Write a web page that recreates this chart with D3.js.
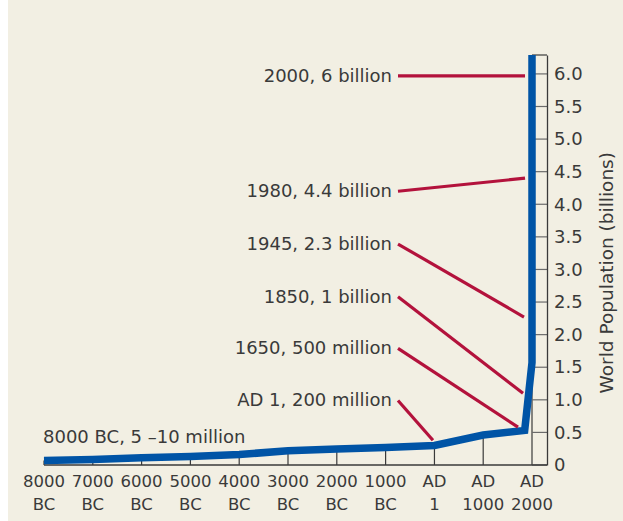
<!DOCTYPE html>
<html>
<head>
<meta charset="utf-8">
<script src="https://cdn.jsdelivr.net/npm/d3@7"></script>
<style>
  html, body { margin: 0; padding: 0; background: #ffffff; }
  svg { display: block; }
  text { font-family: "DejaVu Sans", sans-serif; fill: #3a3a3a; }
</style>
</head>
<body>
<div id="chart"></div>
<script>
// world population through history (billions)
const years = [-8000, -7000, -6000, -5000, -4000, -3000, -2000, -1000, 1, 1000, 1850, 2000, 2000];
const population = [0.07, 0.085, 0.11, 0.13, 0.16, 0.22, 0.245, 0.27, 0.30, 0.46, 0.53, 1.57, 6.29];

// x axis ticks (two-line labels)
const tickYears = [-8000, -7000, -6000, -5000, -4000, -3000, -2000, -1000, 1, 1000, 2000];
const tickTop = ["8000", "7000", "6000", "5000", "4000", "3000", "2000", "1000", "AD", "AD", "AD"];
const tickBottom = ["BC", "BC", "BC", "BC", "BC", "BC", "BC", "BC", "1", "1000", "2000"];

// y axis ticks
const popTicks = [0, 0.5, 1, 1.5, 2, 2.5, 3, 3.5, 4, 4.5, 5, 5.5, 6];

// callouts: text, where the pointer ends (year, billions)
const calloutLabels = ["2000, 6 billion", "1980, 4.4 billion", "1945, 2.3 billion",
                       "1850, 1 billion", "1650, 500 million", "AD 1, 200 million"];
const calloutYears = [1857, 1857, 1836, 1816, 1713, -30];
const calloutValues = [5.97, 4.40, 2.27, 1.10, 0.58, 0.38];

const W = 623, H = 521;

const svg = d3.select("#chart").append("svg")
    .attr("width", W)
    .attr("height", H);

svg.append("rect").attr("width", W).attr("height", H).attr("fill", "#f2efe3");
svg.append("rect").attr("width", 8).attr("height", H).attr("fill", "#ffffff");

const x = d3.scaleLinear().domain([-8000, 2000]).range([44, 532]);
const y = d3.scaleLinear().domain([0, 6.29]).range([465, 55]);
const axisX = 547;

// value on the curve at a tick year (top of the curve for the last one)
function popAt(yr) {
  let v = 0;
  years.forEach((d, i) => { if (d === yr) v = Math.max(v, population[i]); });
  return v;
}

const axisColor = "#3a3a3a";

// drop lines from the curve down to the baseline
svg.append("g").selectAll("line")
  .data(tickYears)
  .enter().append("line")
    .attr("x1", d => x(d)).attr("x2", d => x(d))
    .attr("y1", y(0)).attr("y2", d => y(popAt(d)))
    .attr("stroke", axisColor).attr("stroke-width", 1.2);

// horizontal ticks between the AD 2000 line and the right axis
svg.append("g").selectAll("line")
  .data(popTicks.concat([6.29]))
  .enter().append("line")
    .attr("x1", x(2000)).attr("x2", axisX)
    .attr("y1", d => y(d)).attr("y2", d => y(d))
    .attr("stroke", d => d === 6.29 ? axisColor : "#6b6b6b")
    .attr("stroke-width", 1.2);

// baseline
svg.append("line")
  .attr("x1", x(-8000)).attr("x2", axisX)
  .attr("y1", y(0)).attr("y2", y(0))
  .attr("stroke", axisColor).attr("stroke-width", 1.3);

// right axis
const yAxis = svg.append("g")
  .attr("transform", `translate(${axisX},0)`)
  .call(d3.axisRight(y).tickValues(popTicks).tickSize(0).tickPadding(7)
        .tickFormat(d => d === 0 ? "0" : d3.format(".1f")(d)));
yAxis.select(".domain").attr("stroke", axisColor).attr("stroke-width", 1.3);
yAxis.selectAll("text")
  .attr("font-family", "DejaVu Sans").attr("font-size", 18)
  .attr("fill", "#3a3a3a");

svg.append("text")
  .attr("transform", `translate(613,${y(2.95)}) rotate(-90)`)
  .attr("text-anchor", "middle")
  .attr("font-size", 18.5)
  .text("World Population (billions)");

// x tick labels, two lines
const xl = svg.append("g").selectAll("text")
  .data(tickYears)
  .enter().append("text")
    .attr("text-anchor", "middle")
    .attr("font-size", 16.5);
xl.append("tspan").attr("x", d => x(d)).attr("y", 487).text((d, i) => tickTop[i]);
xl.append("tspan").attr("x", d => x(d)).attr("y", 510).text((d, i) => tickBottom[i]);

// population curve
const line = d3.line()
  .x((d, i) => x(years[i]))
  .y(d => y(d))
  .curve(d3.curveLinear);

svg.append("path")
  .datum(population)
  .attr("d", line)
  .attr("fill", "none")
  .attr("stroke", "#0054a6")
  .attr("stroke-width", 7.5)
  .attr("stroke-linejoin", "miter")
  .attr("stroke-linecap", "butt");

// callouts
const rowLevels = [5.97, 4.2, 3.39, 2.58, 1.79, 0.99];
const callouts = svg.append("g").selectAll("g")
  .data(calloutLabels)
  .enter().append("g");

callouts.append("line")
  .attr("x1", 398).attr("y1", (d, i) => y(rowLevels[i]))
  .attr("x2", (d, i) => x(calloutYears[i]))
  .attr("y2", (d, i) => y(calloutValues[i]))
  .attr("stroke", "#b3123c").attr("stroke-width", 3.2);

callouts.append("text")
  .attr("x", 392).attr("y", (d, i) => y(rowLevels[i]) + 6)
  .attr("text-anchor", "end")
  .attr("font-size", 18)
  .text(d => d);

svg.append("text")
  .attr("x", 43).attr("y", 443)
  .attr("font-size", 18)
  .text("8000 BC, 5 \u201310 million");
</script>
</body>
</html>
